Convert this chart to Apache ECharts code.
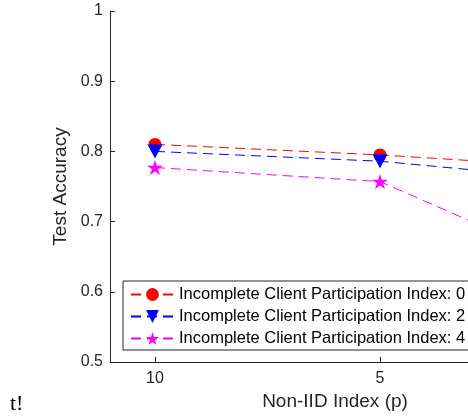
<!DOCTYPE html>
<html>
<head>
<meta charset="utf-8">
<script src="https://cdn.jsdelivr.net/npm/echarts@6/dist/echarts.min.js"></script>
<style>
html,body{margin:0;padding:0;background:#fff;}
#chart{width:468px;height:417px;}
</style>
</head>
<body>
<div id="chart"></div>
<script>
// Data
const nonIid = [10, 5, 2];
const seriesNames = [
  'Incomplete Client Participation Index: 0',
  'Incomplete Client Participation Index: 2',
  'Incomplete Client Participation Index: 4'
];
const acc0 = [0.81, 0.795, 0.783];
const acc2 = [0.80, 0.786, 0.768];
const acc4 = [0.777, 0.757, 0.673];
const xTicks = [1, 5, 10];
const yTicks = [0.5, 0.6, 0.7, 0.8, 0.9, 1];

const STAR = 'path://M0,-1000 L224,-309 L951,-309 L363,118 L588,809 L0,382 L-588,809 L-363,118 L-951,-309 L-224,-309 Z';
const axisColor = '#262626';
const font = 'Liberation Sans, Arial, Helvetica, sans-serif';

function pairs(ys){ return nonIid.map((x,i)=>[x, ys[i]]); }

const chart = echarts.init(document.getElementById('chart'), null, {renderer:'canvas'});
chart.setOption({
  animation: false,
  backgroundColor: '#fff',
  grid: {left: 110, top: 11, width: 450, bottom: 55, containLabel: false, outerBoundsMode: 'none'},
  xAxis: {
    type: 'value', inverse: true, min: 1, max: 11,
    name: 'Non-IID Index (p)', nameLocation: 'middle', nameGap: 29,
    nameTextStyle: {fontFamily: font, fontSize: 19, color: axisColor},
    axisLine: {show: true, onZero: false, lineStyle: {color: axisColor, width: 1}},
    axisTick: {show: true, inside: true, length: 5, customValues: xTicks, lineStyle: {color: axisColor}},
    axisLabel: {customValues: xTicks, margin: 9, fontFamily: font, fontSize: 16, color: axisColor},
    splitLine: {show: false}
  },
  yAxis: {
    type: 'value', min: 0.5, max: 1, interval: 0.1,
    name: 'Test Accuracy', nameLocation: 'middle', nameGap: 34,
    nameTextStyle: {fontFamily: font, fontSize: 19, color: axisColor},
    axisLine: {show: true, onZero: false, lineStyle: {color: axisColor, width: 1}},
    axisTick: {show: true, inside: true, length: 5, lineStyle: {color: axisColor}},
    axisLabel: {margin: 7, fontFamily: font, fontSize: 16, color: axisColor,
      formatter: v => String(+v.toFixed(2))},
    splitLine: {show: false}
  },
  legend: {
    left: 123, top: 281, orient: 'vertical',
    padding: [5, 5, 3, 7], itemGap: 5, itemWidth: 43, itemHeight: 16,
    borderColor: axisColor, borderWidth: 1, backgroundColor: '#fff',
    textStyle: {fontFamily: font, fontSize: 16.5, color: '#000'},
    data: seriesNames
  },
  series: [
    {name: seriesNames[0], type: 'line', data: pairs(acc0), symbol: 'circle', symbolSize: 13,
      itemStyle: {color: '#ff0000'}, lineStyle: {color: '#ff0000', width: 1, type: [10, 6]}},
    {name: seriesNames[1], type: 'line', data: pairs(acc2), symbol: 'triangle', symbolRotate: 180, symbolSize: [15, 14],
      itemStyle: {color: '#0000ff'}, lineStyle: {color: '#0000ff', width: 1, type: [10, 6]}},
    {name: seriesNames[2], type: 'line', data: pairs(acc4), symbol: STAR, symbolSize: [16, 15],
      itemStyle: {color: '#ff00ff'}, lineStyle: {color: '#ff00ff', width: 1, type: [10, 6]}}
  ],
  graphic: [
    {type: 'text', left: 10, top: 393, style: {text: 't!', font: '22px "Liberation Serif", "Times New Roman", serif', fill: '#000'}}
  ]
});
</script>
</body>
</html>
